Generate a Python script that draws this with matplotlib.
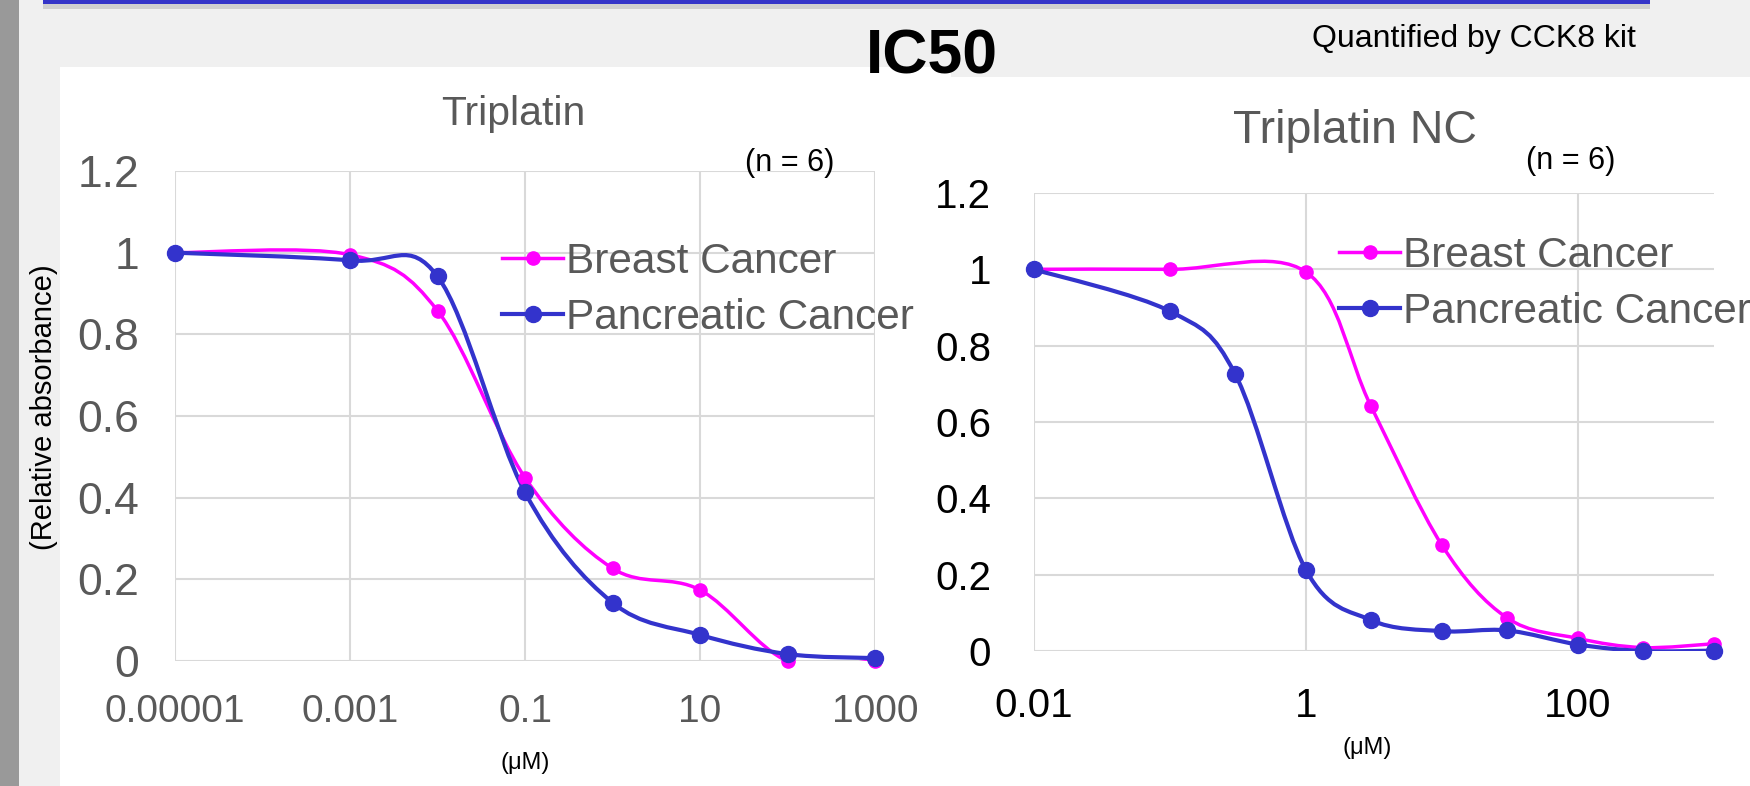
import matplotlib.pyplot as plt
import numpy as np
from matplotlib.path import Path
from matplotlib.patches import PathPatch, Rectangle
from matplotlib.lines import Line2D

plt.rcParams['font.family'] = ['Liberation Sans', 'DejaVu Sans']

# Triplatin (left chart)
trip_conc = [0.00001, 0.001, 0.01, 0.1, 1, 10, 100, 1000]
trip_breast = [1.0, 0.995, 0.858, 0.449, 0.227, 0.174, 0.0, 0.0]
trip_pancreatic = [1.0, 0.981, 0.942, 0.413, 0.143, 0.064, 0.017, 0.007]

# Triplatin NC (right chart)
nc_conc = [0.01, 0.1, 0.3, 1, 3, 10, 30, 100, 300, 1000]
nc_breast = [1.0, 1.0, None, 0.993, 0.642, 0.277, 0.087, 0.033, 0.009, 0.019]
nc_pancreatic = [1.0, 0.89, 0.727, 0.212, 0.081, 0.052, 0.054, 0.017, 0.0, 0.001]

left_xticks = [0.00001, 0.001, 0.1, 10, 1000]
left_xticklabels = ['0.00001', '0.001', '0.1', '10', '1000']
right_xticks = [0.01, 1, 100]
right_xticklabels = ['0.01', '1', '100']
yticks = [0, 0.2, 0.4, 0.6, 0.8, 1.0, 1.2]
yticklabels = ['0', '0.2', '0.4', '0.6', '0.8', '1', '1.2']

PINK = '#FF00FF'
BLUE = '#3333CC'
GREY_TXT = '#595959'
GRID = '#D9D9D9'
PINK_LW, PINK_MS = 2.5, 9.5
BLUE_LW, BLUE_MS = 3.0, 11.5


def smooth_path(xs, ys):
    ''' excel style smoothed line: catmull-rom bezier in (log x, y) '''
    pts = [(np.log10(x), y) for x, y in zip(xs, ys) if y is not None]
    pts = np.array(pts)
    n = len(pts)
    verts = [pts[0]]
    codes = [Path.MOVETO]
    for i in range(n - 1):
        p0 = pts[max(i - 1, 0)]
        p1 = pts[i]
        p2 = pts[i + 1]
        p3 = pts[min(i + 2, n - 1)]
        c1 = p1 + (p2 - p0) / 6.0
        c2 = p2 - (p3 - p1) / 6.0
        verts += [c1, c2, p2]
        codes += [Path.CURVE4] * 3
    verts = np.array(verts)
    verts[:, 0] = 10 ** verts[:, 0]
    return Path(verts, codes)


def draw_chart(ax, conc, breast, pancreatic, tick_color, xpad, ypad):
    for vals, color, lw, ms in [(breast, PINK, PINK_LW, PINK_MS),
                                (pancreatic, BLUE, BLUE_LW, BLUE_MS)]:
        patch = PathPatch(smooth_path(conc, vals), fill=False,
                          edgecolor=color, lw=lw, zorder=3)
        ax.add_patch(patch)
        xs = [x for x, y in zip(conc, vals) if y is not None]
        ys = [y for y in vals if y is not None]
        ax.plot(xs, ys, 'o', color=color, ms=ms, zorder=4, clip_on=False)

    ax.set_xscale('log')
    ax.set_ylim(0, 1.2)
    ax.set_yticks(yticks)
    ax.set_yticklabels(yticklabels)
    ax.minorticks_off()
    ax.grid(True, color=GRID, lw=1.5)
    ax.set_axisbelow(True)
    for s in ax.spines.values():
        s.set_visible(False)
    ax.axhline(0, color=GRID, lw=2, zorder=1)
    ax.tick_params(length=0, labelsize=28, colors=tick_color)
    ax.tick_params(axis='x', pad=xpad)
    ax.tick_params(axis='y', pad=ypad)
    ax.set_facecolor('white')


W, H = 1750, 786
fig = plt.figure(figsize=(17.5, 7.86), dpi=100)
fig.patch.set_facecolor('#F0F0F0')


def fx(px):
    return px / W


def fy(py):
    return 1 - py / H


# slide background pieces
for xy, w, h, c in [((0, 0), fx(19), 1, '#999999'),
                    ((fx(60), 0), fx(951 - 60), fy(67), 'white'),
                    ((fx(951), 0), fx(W - 951), fy(77), 'white'),
                    ((fx(43), fy(9)), fx(1650 - 43), 6 / H, '#CFCFCF'),
                    ((fx(43), fy(4)), fx(1650 - 43), 4 / H, '#3434C8')]:
    fig.add_artist(Rectangle(xy, w, h, transform=fig.transFigure,
                             color=c, lw=0, zorder=-5))

ax1 = fig.add_axes([fx(175), fy(661), fx(875 - 175), (661 - 171) / H])
draw_chart(ax1, trip_conc, trip_breast, trip_pancreatic, GREY_TXT, 24, 26)
ax1.set_xlim(1e-5, 1e3)
ax1.set_xticks(left_xticks)
ax1.set_xticklabels(left_xticklabels)
ax1.tick_params(axis='y', labelsize=32)

ax2 = fig.add_axes([fx(1034), fy(651), fx(1714 - 1034), (651 - 193) / H])
draw_chart(ax2, nc_conc, nc_breast, nc_pancreatic, 'black', 26, 31)
ax2.set_xlim(1e-2, 1e3)
ax2.set_xticks(right_xticks)
ax2.set_xticklabels(right_xticklabels)
ax2.tick_params(labelsize=29)

handles = [Line2D([], [], color=PINK, lw=PINK_LW, marker='o', ms=PINK_MS),
           Line2D([], [], color=BLUE, lw=BLUE_LW, marker='o', ms=BLUE_MS)]
names = ['Breast Cancer', 'Pancreatic Cancer']
for ax, lx, ly in [(ax1, 502, 290), (ax2, 1339, 284)]:
    leg = ax.legend(handles, names, loc='center left',
                    bbox_to_anchor=(fx(lx), fy(ly)),
                    bbox_transform=fig.transFigure, frameon=False,
                    fontsize=30.5, handlelength=1.45, handletextpad=0.05,
                    labelspacing=0.38, borderpad=0, borderaxespad=0)
    for t in leg.get_texts():
        t.set_color(GREY_TXT)

fig.text(fx(932), fy(57), 'IC50', fontsize=45, fontweight='bold',
         ha='center', va='center')
fig.text(fx(1474), fy(39), 'Quantified by CCK8 kit', fontsize=23,
         ha='center', va='center')
fig.text(fx(513), fy(114), 'Triplatin', fontsize=29.5, color=GREY_TXT,
         ha='center', va='center')
fig.text(fx(1355), fy(131), 'Triplatin NC', fontsize=33.5, color=GREY_TXT,
         ha='center', va='center')
fig.text(fx(790), fy(163), '(n = 6)', fontsize=22, ha='center', va='center')
fig.text(fx(1571), fy(161), '(n = 6)', fontsize=22, ha='center', va='center')
fig.text(fx(44), fy(407), '(Relative absorbance)', fontsize=21,
         rotation=90, ha='center', va='center')
fig.text(fx(525), fy(763), '(μM)', fontsize=17, ha='center', va='center')
fig.text(fx(1367), fy(748), '(μM)', fontsize=17, ha='center', va='center')

fig.savefig('out.png', dpi=100, facecolor=fig.get_facecolor())
